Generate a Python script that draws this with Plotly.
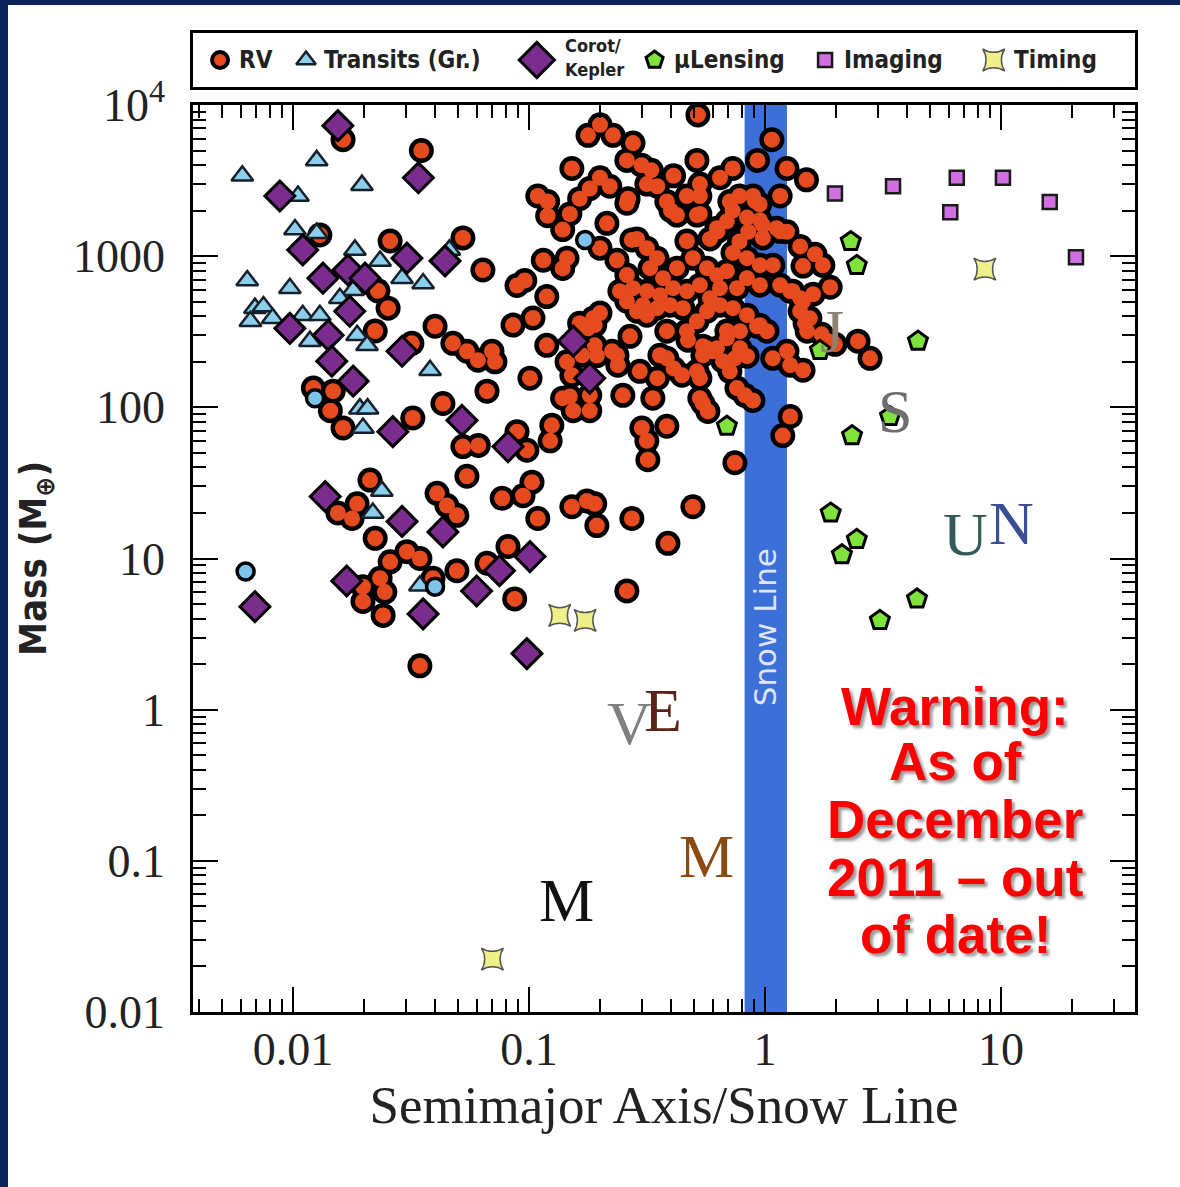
import numpy as np
import plotly.graph_objects as go

# ---------------- data (semimajor axis / snow line, mass in Earth masses) ----------------
rv_a = [0.52, 0.20, 0.178, 0.227, 0.0163, 0.035, 0.276, 0.26, 0.30, 0.152, 0.515, 1.07, 0.93, 0.73,
        0.645, 0.41, 0.33, 0.53, 0.316, 0.35, 1.24, 1.5, 1.16, 0.109, 0.12, 0.164, 0.181, 0.20, 0.22,
        0.263, 0.149, 0.12, 0.139, 0.214, 0.287, 0.384, 0.40, 0.424, 0.467, 0.53, 0.53, 0.71, 0.78,
        0.89, 0.95, 0.73, 0.69, 0.63, 0.585, 0.84, 0.98, 1.12, 1.24, 0.85, 0.78, 0.115, 0.145, 0.139,
        0.089, 0.096, 0.119, 0.0856, 0.104, 0.119, 0.145, 0.152, 0.101, 0.19, 0.20, 0.178, 0.194,
        0.225, 0.238, 0.268, 0.295, 0.35, 0.384, 0.41, 0.445, 0.472, 0.53, 0.546, 0.60, 0.69, 0.746,
        0.84, 0.71, 0.925, 1.02, 1.08, 1.24, 1.28, 1.45, 1.41, 1.51, 1.85, 2.48, 2.79, 0.26, 0.273,
        0.515, 0.626, 0.907, 0.952, 0.98, 1.16, 1.41, 1.45, 1.63, 0.20, 0.236, 0.26, 0.316, 0.349,
        0.326, 0.37, 0.424, 0.467, 0.495, 0.568, 0.626, 0.69, 0.732, 0.839, 0.952, 1.08, 1.16, 1.31,
        1.45, 1.55, 0.952, 0.839, 0.761, 0.645, 0.585, 0.53, 0.467, 0.408, 0.359, 0.316, 0.276, 0.243,
        0.26, 0.304, 0.349, 0.396, 0.449, 0.515, 0.568, 0.645, 0.732, 0.839, 0.952, 0.784, 0.69,
        0.626, 0.568, 0.467, 0.384, 0.316, 0.287, 0.187, 0.164, 0.236, 0.359, 0.515, 0.546, 0.664,
        0.784, 0.25, 0.335, 0.53, 0.761, 0.823, 0.181, 0.149, 0.154, 0.181, 0.301, 0.316, 0.319,
        0.384, 0.546, 0.573, 0.889, 0.746, 1.28, 1.19, 0.152, 0.176, 0.19, 0.194, 0.273, 0.495,
        0.388, 0.26, 0.0148, 0.0144, 0.0163, 0.0322, 0.0432, 0.0664, 0.0525, 0.061, 0.089, 0.098,
        0.125, 0.123, 0.139, 0.0546, 0.0212, 0.0408, 0.0449, 0.0495, 0.077, 0.0944, 0.103, 0.109,
        0.0155, 0.0178, 0.0187, 0.0223, 0.0304, 0.0345, 0.0258, 0.0234, 0.0198, 0.0245, 0.0198,
        0.0241, 0.0495, 0.0392, 0.0664, 0.0815, 0.087, 0.0345, 0.0258, 0.0525, 0.0638, 0.0229,
        0.0253, 0.0223, 0.040, 0.0319, 0.0476, 0.0546, 0.0608, 0.0697, 0.0718, 0.0122, 0.168, 0.19,
        0.013, 1.76, 1.89, 1.6, 1.41, 1.28, 1.48, 1.74, 1.98]
rv_m = [8600, 7400, 6300, 6300, 5900, 5000, 5600, 4300, 4000, 3800, 4300, 5900, 4300, 3800,
        3300, 3400, 3700, 3000, 3000, 2900, 3800, 3200, 2500, 2500, 2300, 2400, 2800, 3300, 2900,
        2400, 1900, 1850, 1500, 1650, 1300, 2300, 2000, 1870, 2500, 2500, 1900, 2300, 2500,
        2500, 2200, 2000, 1700, 1460, 1300, 1800, 1600, 1530, 1450, 1450, 1250, 940, 970, 830,
        640, 690, 540, 350, 390, 257, 200, 163, 156, 350, 420, 333, 220,
        235, 190, 295, 173, 156, 211, 181, 163, 278, 156, 254, 235, 320, 211,
        218, 173, 344, 319, 211, 235, 190, 176, 432, 319, 274, 274, 211, 2240, 1280,
        1870, 1530, 2310, 1730, 1320, 1460, 1160, 860, 1030, 1130, 940, 750, 1130, 970,
        833, 715, 833, 1260, 970, 833, 748, 796, 1050, 970, 872, 872, 643, 587,
        503, 388, 643, 715, 614, 614, 527, 643, 587, 614, 552, 587, 614, 587,
        503, 474, 453, 474, 453, 371, 432, 474, 453, 407, 349, 319, 286,
        246, 246, 319, 319, 407, 432, 388, 360, 221, 221, 173, 221, 202,
        246, 120, 115, 115, 134, 120, 120, 118, 95, 95, 73, 60, 45,
        75, 106, 94, 111, 43, 87, 65, 22, 24, 23, 16.5, 18.4, 22,
        12.6, 6.1, 128, 95, 73, 85, 106, 128, 55, 56, 69, 52,
        76, 60, 115, 35, 33, 27, 22.4, 19.3, 25, 26, 32, 18.4,
        20, 18.4, 23, 13.6, 11.1, 10, 9.5, 7.4, 6.5, 6.0, 5.2,
        4.2, 8.3, 7.4, 9.3, 12, 5.4, 1.95, 1260, 1320, 810, 590,
        453, 320, 344, 265, 265, 235, 205, 235, 200, 134, 221, 257,
        1380, 870, 623, 560, 527, 587, 360, 304, 261]

rvt_a = [0.0063, 0.0124, 0.173, 0.040]          # light-blue circles
rvt_m = [8.2, 115, 1280, 6.5]

tr_a = [0.0061, 0.0126, 0.0196, 0.0105, 0.0102, 0.0126, 0.0183, 0.0234, 0.029, 0.0356, 0.0064,
        0.0069, 0.0075, 0.0066, 0.0097, 0.0082, 0.018, 0.0158, 0.011, 0.013, 0.0118, 0.0187,
        0.0206, 0.0381, 0.0192, 0.0207, 0.0198, 0.0238, 0.0218, 0.0345, 0.046]
tr_m = [3400, 4300, 2950, 2500, 1500, 1420, 1100, 930, 715, 660, 690,
        453, 465, 371, 614, 388, 595, 527, 407, 407, 274, 300,
        257, 176, 98, 98, 73, 28, 20, 6.6, 1100]

kep_a = [0.0155, 0.034, 0.0088, 0.011, 0.0134, 0.0171, 0.0202, 0.0304, 0.0441, 0.0097, 0.0141,
         0.0146, 0.0174, 0.018, 0.029, 0.154, 0.181, 0.0265, 0.052, 0.0815, 0.0137, 0.029,
         0.0432, 0.0169, 0.0356, 0.060, 0.075, 0.101, 0.098, 0.0069]
kep_m = [7300, 3300, 2500, 1100, 715, 810, 715, 970, 930, 333, 300,
         202, 432, 149, 235, 274, 156, 69, 82, 55, 25.7, 17.6,
         15, 7.1, 4.3, 6.1, 8.3, 10.3, 2.35, 4.8]

ml_a = [2.31, 2.45, 1.71, 4.45, 3.39, 2.34, 1.90, 2.45, 2.12, 4.41, 3.07, 0.69]
ml_m = [1250, 870, 238, 274, 87, 65, 20, 13.4, 10.6, 5.4, 3.9, 75]

im_a = [1.98, 3.49, 6.5, 10.2, 6.1, 16.1, 20.8]
im_m = [2600, 2900, 3300, 3300, 1950, 2280, 985]

tm_a = [0.135, 0.173, 8.55, 0.070]
tm_m = [4.2, 3.9, 820, 0.0224]

planet_labels = ["M", "V", "E", "M", "J", "S", "U", "N"]
planet_a = [0.144, 0.268, 0.370, 0.563, 1.93, 3.55, 7.11, 11.1]
planet_m = [0.055, 0.815, 1.0, 0.107, 318, 95.2, 14.5, 17.1]

snow_line_band = [0.82, 1.24]
snow_label_mass = 3.5

x_tick_vals = [0.01, 0.1, 1, 10]
x_tick_text = ["0.01", "0.1", "1", "10"]
y_tick_vals = [0.01, 0.1, 1, 10, 100, 1000, 10000]
y_tick_text = ["0.01", "0.1", "1", "10", "100", "1000", "10<sup>4</sup>"]
x_range = [0.00377, 37]
y_range = [0.01, 10000]

warning_lines = ["Warning:", "As of", "December", "2011 – out", "of date!"]
legend_labels = ["RV", "Transits (Gr.)", "Corot/<br>Kepler", "μLensing", "Imaging", "Timing"]

# ---------------- styling ----------------
W, H = 1180, 1187
ML, MR, MT, MB = 193, 45, 30, 175
PW, PH = W - ML - MR, H - MT - MB
plot_top_px = 105
legend_top_px, legend_bot_px = 33, 87
bottom_px = H - MB


def py(pix):  # pixel row -> paper y
    return (bottom_px - pix) / PH


def px(pix):  # pixel column -> paper x
    return (pix - ML) / PW


RV_COL = "#e54b1e"
TR_COL = "#8ccfec"
KEP_COL = "#7b2d8e"
ML_COL = "#80e33c"
IM_COL = "#d070e0"
TM_COL = "#f0f08a"
planet_colors = ["#111111", "#808080", "#5a2418", "#8a4b12", "#8f8270", "#6e6e6e", "#355a5a", "#3a4f93"]

fig = go.Figure()

# RV: black disks first, orange fills on top (merged outline look)
fig.add_trace(go.Scatter(x=rv_a, y=rv_m, mode="markers", hoverinfo="skip", showlegend=False,
                         marker=dict(symbol="circle", size=25, color="black", line=dict(width=0))))
fig.add_trace(go.Scatter(x=rv_a, y=rv_m, mode="markers", name="RV", showlegend=False,
                         marker=dict(symbol="circle", size=16, color=RV_COL, line=dict(width=0))))
fig.add_trace(go.Scatter(x=tr_a, y=tr_m, mode="markers", name="Transits", showlegend=False,
                         marker=dict(symbol="triangle-up", size=19, color=TR_COL,
                                     line=dict(width=2.5, color="#15202a"))))
fig.add_trace(go.Scatter(x=rvt_a, y=rvt_m, mode="markers", showlegend=False,
                         marker=dict(symbol="circle", size=17, color="#7cc4ec",
                                     line=dict(width=3.5, color="black"))))
fig.add_trace(go.Scatter(x=kep_a, y=kep_m, mode="markers", name="Corot/Kepler", showlegend=False,
                         marker=dict(symbol="diamond", size=23, color=KEP_COL,
                                     line=dict(width=3, color="black"))))
fig.add_trace(go.Scatter(x=ml_a, y=ml_m, mode="markers", name="μLensing", showlegend=False,
                         marker=dict(symbol="pentagon", size=20, color=ML_COL,
                                     line=dict(width=3, color="black"))))
fig.add_trace(go.Scatter(x=im_a, y=im_m, mode="markers", name="Imaging", showlegend=False,
                         marker=dict(symbol="square", size=14, color=IM_COL,
                                     line=dict(width=2.5, color="#1a1a1a"))))
fig.add_trace(go.Scatter(x=tm_a, y=tm_m, mode="markers", name="Timing", showlegend=False,
                         marker=dict(symbol="star-square", size=20, color=TM_COL,
                                     line=dict(width=1.5, color="#555555"))))

# ---------------- legend (own little axes) ----------------
leg_x = [0.0287, 0.120, 0.365, 0.490, 0.671, 0.850]
leg_text_x = [0.047, 0.137, 0.393, 0.508, 0.689, 0.869]
leg_sym = ["circle", "triangle-up", "diamond", "pentagon", "square", "star-square"]
leg_size = [16, 17, 27, 18, 14, 20]
leg_col = [RV_COL, TR_COL, KEP_COL, ML_COL, IM_COL, TM_COL]
leg_lw = [4, 2.5, 3, 3, 2.5, 1.5]
leg_lc = ["black", "#15202a", "black", "black", "#1a1a1a", "#555555"]
for i in range(6):
    fig.add_trace(go.Scatter(x=[leg_x[i]], y=[0.5], xaxis="x2", yaxis="y2", mode="markers",
                             hoverinfo="skip", showlegend=False,
                             marker=dict(symbol=leg_sym[i], size=leg_size[i], color=leg_col[i],
                                         line=dict(width=leg_lw[i], color=leg_lc[i]))))

LEG_FONT = "DejaVu Sans Condensed, Liberation Sans Narrow, DejaVu Sans"
annotations = []
for i, lab in enumerate(legend_labels):
    if "<br>" in lab:
        top, bot = lab.split("<br>")
        annotations.append(dict(x=leg_text_x[i], y=0.76, xref="x2", yref="y2", text=top, showarrow=False,
                                xanchor="left", yanchor="middle",
                                font=dict(family=LEG_FONT, size=18, color="#222", weight="bold")))
        annotations.append(dict(x=leg_text_x[i], y=0.33, xref="x2", yref="y2", text=bot, showarrow=False,
                                xanchor="left", yanchor="middle",
                                font=dict(family=LEG_FONT, size=18, color="#222", weight="bold")))
    else:
        annotations.append(dict(x=leg_text_x[i], y=0.5, xref="x2", yref="y2", text=lab, showarrow=False,
                                xanchor="left", yanchor="middle",
                                font=dict(family=LEG_FONT, size=24, color="#222", weight="bold")))

# planet letters (annotations on log axes take log10 positions)
for lab, a, m, c in zip(planet_labels, planet_a, planet_m, planet_colors):
    annotations.append(dict(x=np.log10(a), y=np.log10(m), xref="x", yref="y", text=lab, showarrow=False,
                            xanchor="center", yanchor="middle",
                            font=dict(family="Liberation Serif, DejaVu Serif", size=62, color=c)))

# snow line label
annotations.append(dict(x=np.log10(np.sqrt(snow_line_band[0] * snow_line_band[1])),
                        y=np.log10(snow_label_mass), xref="x", yref="y", text="Snow Line",
                        showarrow=False, textangle=-90, xanchor="center", yanchor="middle",
                        font=dict(family="DejaVu Sans", size=31, color="#dfe4f7")))

# warning text
warn_y_px = [706, 761, 819, 877, 934]
for line, ypx in zip(warning_lines, warn_y_px):
    annotations.append(dict(x=px(955), y=py(ypx), xref="paper", yref="paper", text=line, showarrow=False,
                            xanchor="center", yanchor="middle",
                            font=dict(family="Liberation Sans, Arial", size=53, color="#ff0000",
                                      weight="bold", shadow="3px 3px 3px #9a9a9a")))

shapes = [
    dict(type="rect", xref="x", yref="y domain", x0=snow_line_band[0], x1=snow_line_band[1], y0=0, y1=1,
         fillcolor="#3d6fd8", line=dict(width=0), layer="below"),
    # dark slide border (left and top)
    dict(type="rect", xref="paper", yref="paper", x0=px(0), x1=px(8), y0=py(H), y1=py(0),
         fillcolor="#0a2358", line=dict(width=0), layer="below"),
    dict(type="rect", xref="paper", yref="paper", x0=px(0), x1=px(W), y0=py(5), y1=py(0),
         fillcolor="#0a2358", line=dict(width=0), layer="below"),
]

axis_common = dict(type="log", showline=True, linecolor="black", linewidth=2.5, mirror="allticks",
                   ticks="inside", ticklen=25, tickwidth=2, tickcolor="black", showgrid=False,
                   zeroline=False, automargin=False,
                   minor=dict(ticks="inside", ticklen=13, tickwidth=1.5, tickcolor="black",
                              dtick="D1", showgrid=False))

fig.update_layout(
    width=W, height=H, template="none",
    margin=dict(l=ML, r=MR, t=MT, b=MB, pad=0),
    paper_bgcolor="white", plot_bgcolor="white",
    showlegend=False,
    xaxis=dict(axis_common, range=[np.log10(x_range[0]), np.log10(x_range[1])],
               tickvals=x_tick_vals, ticktext=x_tick_text, ticklabelstandoff=-5,
               tickfont=dict(family="Liberation Serif, DejaVu Serif", size=46, color="#222"),
               title=dict(text="Semimajor Axis/Snow Line", standoff=12,
                          font=dict(family="Liberation Serif, DejaVu Serif", size=53, color="#222")),
               domain=[0, 1], anchor="y"),
    yaxis=dict(axis_common, range=[np.log10(y_range[0]), np.log10(y_range[1])],
               tickvals=y_tick_vals, ticktext=y_tick_text, ticklabelstandoff=16,
               tickfont=dict(family="Liberation Serif, DejaVu Serif", size=46, color="#222"),
               title=dict(text="Mass (M<sub>⊕</sub>)", standoff=15,
                          font=dict(family=LEG_FONT, size=38, color="#222", weight="bold")),
               domain=[0, py(plot_top_px)], anchor="x"),
    xaxis2=dict(domain=[0, 1], anchor="y2", range=[0, 1], showline=True, mirror=True, linecolor="black",
                linewidth=2.5, showticklabels=False, ticks="", showgrid=False, zeroline=False,
                fixedrange=True),
    yaxis2=dict(domain=[py(legend_bot_px), py(legend_top_px)], anchor="x2", range=[0, 1], showline=True,
                mirror=True, linecolor="black", linewidth=2.5, showticklabels=False, ticks="",
                showgrid=False, zeroline=False, fixedrange=True),
    annotations=annotations,
    shapes=shapes,
)

fig.write_html("out.html")
